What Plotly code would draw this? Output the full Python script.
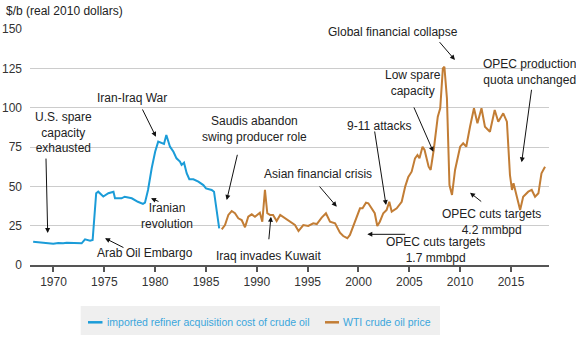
import plotly.graph_objects as go

# Imported refiner acquisition cost of crude oil ($/b, real 2010 dollars)
rac_years = [1968.0, 1968.67, 1969.5, 1969.98, 1970.47, 1970.96, 1971.3, 1972.1, 1972.77,
             1973.1, 1973.6, 1973.85, 1974.2, 1974.4, 1974.9, 1975.4, 1975.9, 1976.05,
             1976.7, 1977.0, 1977.7, 1978.3, 1978.8, 1979.0, 1979.3, 1979.66, 1980.0,
             1980.3, 1980.64, 1980.87, 1981.1, 1981.46, 1981.8, 1982.1, 1982.44, 1982.6,
             1982.84, 1983.1, 1983.36, 1983.76, 1984.25, 1984.74, 1985.0, 1985.56,
             1985.79, 1985.89, 1986.3]
rac_values = [14.8, 14.4, 13.8, 13.5, 14.0, 13.8, 14.2, 14.0, 13.8,
              16.3, 15.5, 15.9, 45.6, 46.6, 43.5, 45.6, 46.6, 42.4,
              42.4, 43.4, 42.4, 40.2, 38.8, 39.6, 47.7, 61.5, 72.0,
              78.4, 77.4, 76.9, 82.6, 75.2, 72.0, 67.8, 65.7, 63.6,
              65.0, 58.3, 54.5, 54.5, 53.0, 50.8, 48.7, 47.7,
              46.6, 41.3, 23.3]

# WTI crude oil price ($/b, real 2010 dollars)
wti_years = [1986.55, 1986.87, 1987.2, 1987.53, 1987.85, 1988.18, 1988.51, 1988.84, 1989.16,
             1989.5, 1989.82, 1990.3, 1990.54, 1990.8, 1991.03, 1991.3, 1991.6, 1991.95,
             1992.3, 1992.77, 1993.26, 1993.75, 1994.1, 1994.57, 1995.06, 1995.55, 1995.9,
             1996.38, 1996.8, 1997.2, 1997.7, 1998.18, 1998.5, 1998.9, 1999.16, 1999.8,
             2000.15, 2000.4, 2000.74, 2000.97, 2001.3, 2001.6, 2001.85, 2002.1, 2002.44,
             2002.77, 2003.03, 2003.27, 2003.76, 2004.25, 2004.6, 2004.9, 2005.23, 2005.56,
             2005.8, 2006.0, 2006.3, 2006.5, 2006.9, 2007.1, 2007.4, 2007.8, 2008.04,
             2008.3, 2008.45, 2008.7, 2008.95, 2009.2, 2009.5, 2010.0, 2010.3, 2010.6,
             2010.97, 2011.36, 2011.7, 2012.1, 2012.44, 2012.93, 2013.4, 2013.75, 2014.24,
             2014.6, 2014.9, 2015.1, 2015.25, 2015.6, 2015.9, 2016.2, 2016.7, 2017.04,
             2017.37, 2017.7, 2018.0, 2018.35]
wti_values = [22.7, 25.4, 31.8, 34.3, 32.9, 29.7, 28.6, 24.0, 30.7,
              32.2, 30.7, 33.2, 27.5, 47.7, 32.9, 31.8, 31.8, 28.0,
              31.8, 29.7, 27.5, 25.4, 21.6, 25.4, 24.8, 26.5, 26.0,
              30.1, 32.9, 27.5, 26.5, 20.5, 18.4, 17.0, 19.1, 30.7,
              36.0, 36.0, 39.6, 39.2, 35.4, 32.9, 24.8, 27.5, 32.9,
              35.0, 40.2, 33.9, 36.0, 40.2, 50.0, 56.0, 59.3, 67.8,
              69.9, 67.8, 75.2, 73.1, 62.5, 60.4, 73.1, 94.3, 99.6,
              125.0, 126.0, 106.0, 50.8, 44.5, 60.4, 75.2, 77.4, 75.2,
              87.9, 99.6, 90.1, 99.6, 87.9, 84.7, 98.5, 91.1, 96.4,
              91.1, 57.2, 47.7, 51.9, 43.4, 35.0, 43.4, 46.6, 47.7,
              43.4, 45.6, 58.3, 62.5]

x_ticks = [1970, 1975, 1980, 1985, 1990, 1995, 2000, 2005, 2010, 2015]
y_ticks = [0, 25, 50, 75, 100, 125, 150]

# Event labels: (text, text_x, text_y, arrow_tail_x, arrow_tail_y, arrow_head_x, arrow_head_y)
events = [
    ("U.S. spare<br>capacity<br>exhausted", 1971.0, 84.0, 1969.26, 68.6, 1969.43, 20.3),
    ("Iran-Iraq War", 1977.77, 106.1, 1978.68, 99.8, 1980.08, 81.5),
    ("Iranian<br>revolution", 1981.13, 31.3, 1980.48, 40.0, 1979.59, 42.4),
    ("Arab Oil Embargo", 1979.0, 7.4, 1977.03, 10.6, 1975.07, 17.0),
    ("Saudis abandon<br>swing producer role", 1989.82, 86.3, 1988.12, 71.0, 1987.04, 41.3),
    ("Iraq invades Kuwait", 1991.1, 5.7, 1991.17, 15.4, 1991.39, 30.7),
    ("Asian financial crisis", 1996.05, 57.8, 1996.05, 50.8, 1997.86, 37.1),
    ("9-11 attacks", 2002.02, 88.5, 2001.57, 85.8, 2002.71, 38.1),
    ("Low spare<br>capacity", 2005.33, 115.4, 2005.39, 101.1, 2007.36, 72.0),
    ("Global financial collapse", 2003.36, 148.3, 2007.85, 142.6, 2009.49, 130.3),
    ("OPEC production<br>quota unchanged", 2016.87, 122.4, 2017.04, 112.3, 2016.05, 65.3),
    ("OPEC cuts targets<br>4.2 mmbpd", 2013.1, 27.6, 2012.22, 39.6, 2010.97, 46.0),
    ("OPEC cuts targets<br>1.7 mmbpd", 2007.59, 9.7, 2004.74, 19.5, 2000.87, 19.5),
]

BLUE = "#1b9cd8"
ORANGE = "#c27d35"
FONT = "Liberation Sans, Arial, sans-serif"
TEXT = "#222222"

fig = go.Figure()
fig.add_trace(go.Scatter(x=rac_years, y=rac_values, mode="lines",
                         name="imported refiner acquisition cost of crude oil",
                         line=dict(color=BLUE, width=2), showlegend=False))
fig.add_trace(go.Scatter(x=wti_years, y=wti_values, mode="lines",
                         name="WTI crude oil price",
                         line=dict(color=ORANGE, width=2), showlegend=False))

annotations = []
for text, tx, ty, ax, ay, hx, hy in events:
    annotations.append(dict(x=tx, y=ty, xref="x", yref="y", text=text, showarrow=False,
                            font=dict(family=FONT, size=12, color=TEXT),
                            xanchor="center", yanchor="middle", align="center"))
    annotations.append(dict(x=hx, y=hy, ax=ax, ay=ay, xref="x", yref="y",
                            axref="x", ayref="y", text="", showarrow=True,
                            arrowhead=2, arrowsize=1, arrowwidth=1, arrowcolor="#111111"))


# Paper coordinates of the plot area, from pixel offsets in the 576x341 page
def px(xpix):
    return (xpix - 30) / 519


def py(ypix):
    return (265 - ypix) / 236


# Unit label above the value axis
annotations.append(dict(x=px(4), y=py(11), xref="paper", yref="paper",
                        text="$/b (real 2010 dollars)", showarrow=False,
                        xanchor="left", yanchor="middle",
                        font=dict(family=FONT, size=12, color=TEXT)))

# Key below the chart
shapes = [
    dict(type="rect", xref="paper", yref="paper", x0=px(80.7), x1=px(440),
         y0=py(335), y1=py(306), fillcolor="#efefef", line=dict(width=0), layer="below"),
    dict(type="line", xref="paper", yref="paper", x0=px(88), x1=px(102.5),
         y0=py(322.3), y1=py(322.3), line=dict(color=BLUE, width=2.5)),
    dict(type="line", xref="paper", yref="paper", x0=px(325), x1=px(339),
         y0=py(322.3), y1=py(322.3), line=dict(color=ORANGE, width=2.5)),
]
annotations.append(dict(x=px(104.5), y=py(321.8), xref="paper", yref="paper",
                        text="imported refiner acquisition cost of crude oil",
                        showarrow=False, xanchor="left", yanchor="middle",
                        font=dict(family=FONT, size=10.5, color="#3aa6dc")))
annotations.append(dict(x=px(341.2), y=py(321.8), xref="paper", yref="paper",
                        text="WTI crude oil price",
                        showarrow=False, xanchor="left", yanchor="middle",
                        font=dict(family=FONT, size=10.5, color="#3aa6dc")))

fig.update_layout(
    width=576, height=341,
    margin=dict(l=30, r=27, t=29, b=76),
    paper_bgcolor="white", plot_bgcolor="white",
    font=dict(family=FONT, size=12, color=TEXT),
    annotations=annotations, shapes=shapes,
    showlegend=False,
)
fig.update_xaxes(range=[1967.69, 2018.74], tickvals=x_ticks, showgrid=False,
                 showline=True, linecolor="#555555", linewidth=1.5,
                 ticks="outside", ticklen=5, tickcolor="#555555", tickwidth=1.5,
                 tickfont=dict(family=FONT, size=12, color="#333333"),
                 zeroline=False, fixedrange=True, automargin=False)
fig.update_yaxes(range=[0, 150], tickvals=y_ticks, showgrid=True,
                 gridcolor="#cccccc", gridwidth=1, showline=False, zeroline=False,
                 ticks="", ticklabelstandoff=7,
                 tickfont=dict(family=FONT, size=12, color="#333333"),
                 fixedrange=True, automargin=False)

fig.write_html("out.html")
